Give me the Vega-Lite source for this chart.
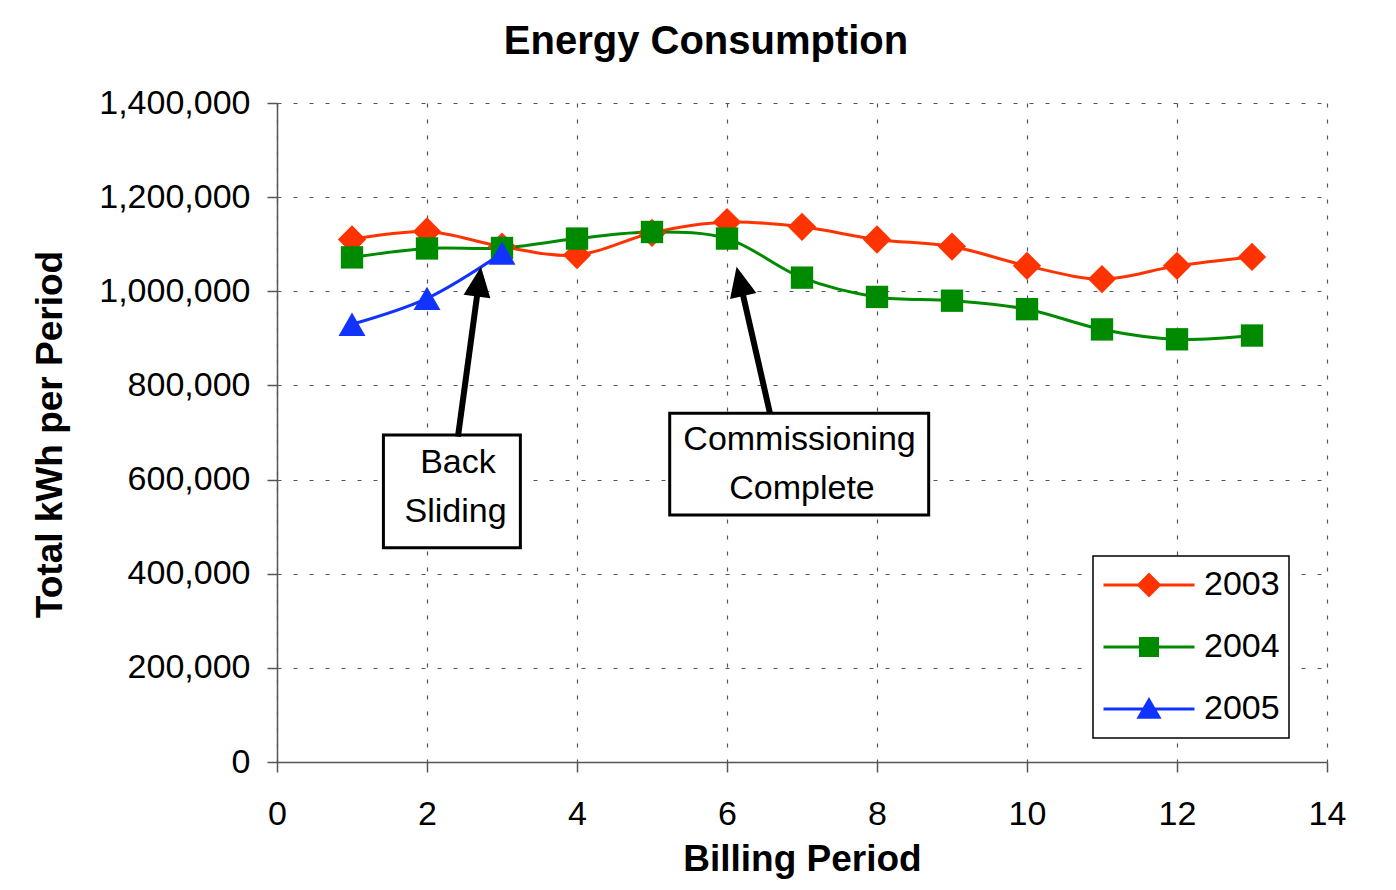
{
  "$schema": "https://vega.github.io/schema/vega-lite/v6.json",
  "autosize": "none",
  "width": 1050,
  "height": 659,
  "padding": {"left": 277, "top": 103, "right": 69, "bottom": 128},
  "background": "white",
  "title": {
    "text": "Energy Consumption",
    "font": "Liberation Sans",
    "fontSize": 40,
    "fontWeight": "bold",
    "color": "black",
    "anchor": "middle",
    "dx": -96,
    "offset": 24
  },
  "config": {
    "view": {"stroke": null},
    "font": "Liberation Sans",
    "text": {"font": "Liberation Sans"}
  },
  "datasets": {
    "series": [
      {"period": 1, "year": "2003", "kwh": 1110000},
      {"period": 2, "year": "2003", "kwh": 1127000},
      {"period": 3, "year": "2003", "kwh": 1095000},
      {"period": 4, "year": "2003", "kwh": 1077000},
      {"period": 5, "year": "2003", "kwh": 1124000},
      {"period": 6, "year": "2003", "kwh": 1147000},
      {"period": 7, "year": "2003", "kwh": 1137000},
      {"period": 8, "year": "2003", "kwh": 1110000},
      {"period": 9, "year": "2003", "kwh": 1095000},
      {"period": 10, "year": "2003", "kwh": 1054000},
      {"period": 11, "year": "2003", "kwh": 1026000},
      {"period": 12, "year": "2003", "kwh": 1054000},
      {"period": 13, "year": "2003", "kwh": 1073000},
      {"period": 1, "year": "2004", "kwh": 1072000},
      {"period": 2, "year": "2004", "kwh": 1091000},
      {"period": 3, "year": "2004", "kwh": 1092000},
      {"period": 4, "year": "2004", "kwh": 1112000},
      {"period": 5, "year": "2004", "kwh": 1126000},
      {"period": 6, "year": "2004", "kwh": 1112000},
      {"period": 7, "year": "2004", "kwh": 1029000},
      {"period": 8, "year": "2004", "kwh": 988000},
      {"period": 9, "year": "2004", "kwh": 980000},
      {"period": 10, "year": "2004", "kwh": 962000},
      {"period": 11, "year": "2004", "kwh": 919000},
      {"period": 12, "year": "2004", "kwh": 898000},
      {"period": 13, "year": "2004", "kwh": 906000},
      {"period": 1, "year": "2005", "kwh": 930000},
      {"period": 2, "year": "2005", "kwh": 985000},
      {"period": 3, "year": "2005", "kwh": 1081000}
    ],
    "boxes": [
      {"period": 1.419, "period2": 3.245, "kwh": 694700, "kwh2": 455300},
      {"period": 5.236, "period2": 8.689, "kwh": 740800, "kwh2": 524700}
    ],
    "shafts": [
      {"period": 2.413, "kwh": 691100, "period2": 2.693, "kwh2": 1020600},
      {"period": 6.573, "kwh": 740800, "period2": 6.172, "kwh2": 1021200}
    ],
    "head1": [{"period": 2.693, "kwh": 1020600}],
    "head2": [{"period": 6.172, "kwh": 1021200}],
    "notes": [
      {"period": 2.413, "kwh": 613950, "label": "Back"},
      {"period": 2.38, "kwh": 510500, "label": "Sliding"},
      {"period": 6.967, "kwh": 662800, "label": "Commissioning"},
      {"period": 7.0, "kwh": 558700, "label": "Complete"}
    ]
  },
  "encoding": {
    "x": {
      "field": "period", "type": "quantitative", "title": "Billing Period",
      "scale": {"domain": [0, 14], "nice": false},
      "axis": {
        "values": [0, 2, 4, 6, 8, 10, 12, 14],
        "format": "d",
        "grid": true, "gridDash": [4, 12], "gridColor": "#555", "gridWidth": 1.2,
        "domainColor": "#555", "domainWidth": 1.5, "tickColor": "#555", "tickWidth": 1.5, "tickSize": 10,
        "labelFont": "Liberation Sans", "labelFontSize": 34, "labelColor": "black", "labelPadding": 25,
        "labelFlush": false, "labelOverlap": false,
        "titleFont": "Liberation Sans", "titleFontSize": 37, "titleFontWeight": "bold", "titleColor": "black",
        "titleX": 525, "titleY": 108, "titleBaseline": "alphabetic", "titleAlign": "center", "titleAnchor": null
      }
    },
    "y": {
      "field": "kwh", "type": "quantitative", "title": "Total kWh per Period",
      "scale": {"domain": [0, 1400000], "nice": false},
      "axis": {
        "values": [0, 200000, 400000, 600000, 800000, 1000000, 1200000, 1400000],
        "format": ",.0f",
        "grid": true, "gridDash": [4, 12], "gridColor": "#555", "gridWidth": 1.2,
        "domainColor": "#555", "domainWidth": 1.5, "tickColor": "#555", "tickWidth": 1.5, "tickSize": 10,
        "labelFont": "Liberation Sans", "labelFontSize": 34, "labelColor": "black", "labelPadding": 17,
        "labelFlush": false, "labelOverlap": false,
        "titleFont": "Liberation Sans", "titleFontSize": 37, "titleFontWeight": "bold", "titleColor": "black",
        "titleX": -216, "titleY": 331, "titleAngle": -90, "titleBaseline": "alphabetic", "titleAlign": "center", "titleAnchor": null
      }
    }
  },
  "layer": [
    {
      "data": {"name": "series"},
      "mark": {"type": "line", "interpolate": "catmull-rom", "strokeWidth": 3},
      "encoding": {
        "color": {
          "field": "year", "type": "nominal",
          "scale": {"domain": ["2003", "2004", "2005"], "range": ["#ff3300", "#008a00", "#1133ff"]},
          "legend": {
            "title": null,
            "orient": "none", "legendX": 816, "legendY": 453,
            "symbolSize": 8281, "symbolStrokeWidth": 3,
            "clipHeight": 40,
            "labelFont": "Liberation Sans", "labelFontSize": 34, "labelColor": "black", "labelOffset": 8,
            "padding": 9, "rowPadding": 22,
            "strokeColor": "black", "fillColor": "white",
            "encode": {
              "symbols": {
                "update": {
                  "shape": {"signal": "datum.value == '2003' ? 'M-1,0H1M-0.227,0L0,-0.227L0.227,0L0,0.227Z' : datum.value == '2004' ? 'M-1,0H1M-0.187,-0.187H0.187V0.187H-0.187Z' : 'M-1,0H1M0,-0.2L0.22,0.18H-0.22Z'"},
                  "size": {"value": 8281},
                  "fill": {"scale": "color", "field": "value"},
                  "stroke": {"scale": "color", "field": "value"},
                  "strokeWidth": {"value": 3},
                  "opacity": {"value": 1},
                  "fillOpacity": {"value": 1},
                  "strokeOpacity": {"value": 1}
                }
              },
              "legend": {"update": {"strokeWidth": {"value": 1.5}}}
            }
          }
        },
        "detail": {"field": "year"}
      }
    },
    {
      "data": {"name": "series"},
      "transform": [{"filter": "datum.year == '2003'"}],
      "mark": {"type": "point", "filled": true, "opacity": 1, "strokeWidth": 0, "shape": "diamond", "size": 800},
      "encoding": {"color": {"field": "year", "type": "nominal"}}
    },
    {
      "data": {"name": "series"},
      "transform": [{"filter": "datum.year == '2004'"}],
      "mark": {"type": "point", "filled": true, "opacity": 1, "strokeWidth": 0, "shape": "square", "size": 500},
      "encoding": {"color": {"field": "year", "type": "nominal"}}
    },
    {
      "data": {"name": "series"},
      "transform": [{"filter": "datum.year == '2005'"}],
      "mark": {"type": "point", "filled": true, "opacity": 1, "strokeWidth": 0, "shape": "triangle-up", "size": 729},
      "encoding": {"color": {"field": "year", "type": "nominal"}}
    },
    {
      "data": {"name": "boxes"},
      "mark": {"type": "rect", "fill": "white", "stroke": "black", "strokeWidth": 3},
      "encoding": {
        "x2": {"field": "period2"},
        "y2": {"field": "kwh2"}
      }
    },
    {
      "data": {"name": "shafts"},
      "mark": {"type": "rule", "color": "black", "strokeWidth": 6},
      "encoding": {
        "x2": {"field": "period2"},
        "y2": {"field": "kwh2"}
      }
    },
    {
      "data": {"name": "head1"},
      "mark": {"type": "point", "shape": "M0,-1L0.9,1L-0.9,1Z", "size": 900, "filled": true, "color": "black", "opacity": 1, "angle": 7.7},
      "encoding": {}
    },
    {
      "data": {"name": "head2"},
      "mark": {"type": "point", "shape": "M0,-1L0.9,1L-0.9,1Z", "size": 900, "filled": true, "color": "black", "opacity": 1, "angle": 347.2},
      "encoding": {}
    },
    {
      "data": {"name": "notes"},
      "mark": {"type": "text", "font": "Liberation Sans", "fontSize": 34, "color": "black", "align": "center", "baseline": "alphabetic"},
      "encoding": {
        "text": {"field": "label"}
      }
    }
  ]
}
